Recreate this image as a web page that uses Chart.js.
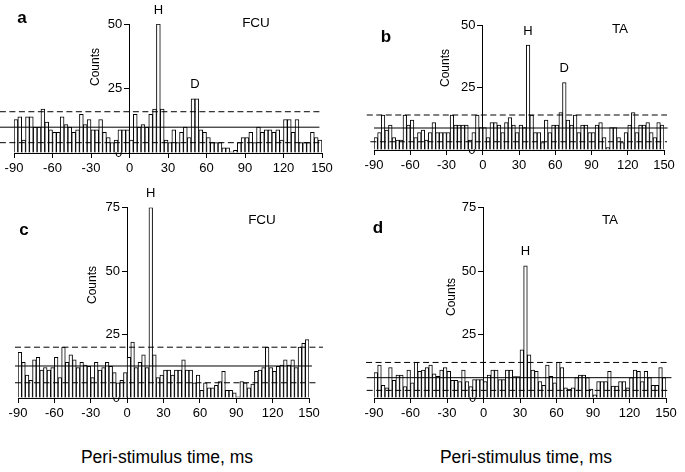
<!DOCTYPE html>
<html>
<head>
<meta charset="utf-8">
<script src="https://cdn.jsdelivr.net/npm/chart.js@4.4.0/dist/chart.umd.min.js"></script>
<style>
  html, body { margin: 0; padding: 0; background: #fff; }
  body { width: 685px; height: 472px; position: relative; overflow: hidden;
         font-family: "Liberation Sans", Arial, sans-serif; color: #000; }
  canvas { position: absolute; }
  .txt { position: absolute; transform: translate(-50%, -50%); white-space: nowrap; }
  .letter { font-weight: bold; font-size: 17px; }
  .muscle { font-size: 13.5px; }
  .counts { font-size: 12px; transform: translate(-50%, -50%) rotate(-90deg); }
  .xtitle { font-size: 17.5px; }
</style>
</head>
<body>
<canvas id="chartA"></canvas>
<canvas id="chartB"></canvas>
<canvas id="chartC"></canvas>
<canvas id="chartD"></canvas>

<div class="txt letter" style="left:22px;top:18px">a</div>
<div class="txt letter" style="left:386px;top:37px">b</div>
<div class="txt letter" style="left:24px;top:230px">c</div>
<div class="txt letter" style="left:378px;top:228px">d</div>

<div class="txt muscle" style="left:256px;top:22px">FCU</div>
<div class="txt muscle" style="left:620px;top:28px">TA</div>
<div class="txt muscle" style="left:262px;top:219px">FCU</div>
<div class="txt muscle" style="left:610px;top:219px">TA</div>

<div class="txt counts" style="left:95px;top:67px">Counts</div>
<div class="txt counts" style="left:445px;top:68px">Counts</div>
<div class="txt counts" style="left:92px;top:285px">Counts</div>
<div class="txt counts" style="left:451px;top:297px">Counts</div>

<div class="txt xtitle" style="left:167px;top:457px">Peri-stimulus time, ms</div>
<div class="txt xtitle" style="left:526px;top:457px">Peri-stimulus time, ms</div>

<script>
// bins: 3 ms wide, first one starts at -90 ms
const BIN_START = -90;
const BIN_WIDTH = 3;

// counts per bin
const countsA = [13,14,5,14,14,10,10,17,12,9, 8,8,14,11,10,8,9,15,11,13,
                 9,9,13,8,6,4,5,9,9,9, 5,15,10,11,10,15,17,50,17,5,
                 4,9,4,8,10,6,21,21,9,8, 6,4,4,4,2,2,0.5,1,4,6,
                 6,8,4,10,8,9,9,8,9,5, 13,13,8,13,4,4,4,8,6,5];
const countsB = [5,7,14,8,10,5,4,4,14,10, 12,5,7,8,4,7,11,7,7,7,
                 7,14,10,10,10,10,4,7,14,9, 9,5,11,11,10,7,11,13,10,7,
                 10,9,42,14,7,7,3,12,7,10, 10,15,27,12,10,14,7,10,10,7,
                 7,10,11,5,1,9,9,5,3,7, 10,15,7,10,10,11,7,5,11,10];
const countsC = [18,14,9,7,15,16,11,12,11,12, 16,8,20,14,17,15,12,14,13,12.5,
                 8,14,11,12,14,12.5,10,6,7,10, 16,22,12,14,17,12,75,17,8,9,
                 11,11,9,11,11,15,11,11,6,9, 3,6,4,4,5,6.5,10.5,3,3,2,
                 0.5,6.5,6,4,5.5,10.5,11,12,20,12, 10.5,12.5,13,15,13,15,12,20,21.5,23];
const countsD = [10,13,5,4,12,7,9,9,4.5,11, 6,14,10.5,11,12,13,9.5,8.5,11,12,
                 10.5,7,7,6.5,11,6.5,4.5,7.3,7.3,7.3, 6.5,9,11,11,7.3,7.3,11,11,8.4,8.4,
                 19,52,17,11,10.5,6.5,5,13,8.5,6, 14,12,4,3.5,4,8,9,9,8,3.5,
                 1.2,6.5,6.5,6.5,10.5,4.7,4.7,6.5,6.5,4,8,11,10.5,6.5,10.5,8,5,5,12,8];

// upper limit (dashed), mean (solid), lower limit (dashed)
const limitsA = [16, 10, 4];
const limitsB = [14, 8.8, 3.3];
const limitsC = [20, 12.6, 6];
const limitsD = [14, 8, 3];

// labelled peaks (bin indices)
const peaksA = [{ text: 'H', bins: [37] }, { text: 'D', bins: [46, 47] }];
const peaksB = [{ text: 'H', bins: [42] }, { text: 'D', bins: [52] }];
const peaksC = [{ text: 'H', bins: [36] }];
const peaksD = [{ text: 'H', bins: [41] }];

const X_MIN = -90, X_MAX = 150, X_STEP = 30;
const Y_STEP = 25;

Chart.defaults.font.family = '"Liberation Sans", Arial, sans-serif';
Chart.defaults.font.size = 13;
Chart.defaults.color = '#000';

const panels = [
  { id: 'chartA', counts: countsA, limits: limitsA, peaks: peaksA, yMax: 50,
    left: 0, top: 0, width: 337, height: 183, pad: { left: 14, right: 15, top: 24 },
    from: [-101, -101, -101], to: [148, 148, 148] },
  { id: 'chartB', counts: countsB, limits: limitsB, peaks: peaksB, yMax: 50,
    left: 350, top: 0, width: 330, height: 180, pad: { left: 24, right: 16, top: 25 },
    from: [-96, -90, -93], to: [152.5, 153, 152.5] },
  { id: 'chartC', counts: countsC, limits: limitsC, peaks: peaksC, yMax: 75,
    left: 0, top: 185, width: 340, height: 243, pad: { left: 18, right: 31, top: 22.5 },
    from: [-92.5, -92.5, -92.5], to: [161.5, 152.5, 156.5] },
  { id: 'chartD', counts: countsD, limits: limitsD, peaks: peaksD, yMax: 75,
    left: 350, top: 185, width: 335, height: 243, pad: { left: 24, right: 19, top: 22.5 },
    from: [-96.5, -96, -96], to: [153, 154.5, 153] }
];

function makePanel(p) {
  const canvas = document.getElementById(p.id);
  canvas.width = p.width;
  canvas.height = p.height;
  canvas.style.left = p.left + 'px';
  canvas.style.top = p.top + 'px';

  const bars = p.counts.map((c, i) => ({ x: BIN_START + BIN_WIDTH * (i + 0.5), y: c }));

  const lineSet = (k, dash) => ({
    type: 'line',
    data: [{ x: p.from[k], y: p.limits[k] }, { x: p.to[k], y: p.limits[k] }],
    borderColor: '#000',
    borderWidth: 1,
    borderDash: dash,
    pointRadius: 0,
    fill: false,
    clip: false,
    order: 1
  });

  const peakLabels = {
    id: 'peakLabels',
    afterDatasetsDraw(chart) {
      const { ctx, scales: { x, y } } = chart;
      ctx.save();
      ctx.font = '13px "Liberation Sans", Arial, sans-serif';
      ctx.fillStyle = '#000';
      ctx.textAlign = 'center';
      ctx.textBaseline = 'middle';
      p.peaks.forEach(pk => {
        const xs = pk.bins.map(b => bars[b].x);
        const top = Math.max(...pk.bins.map(b => bars[b].y));
        const px = x.getPixelForValue(xs.reduce((s, v) => s + v, 0) / xs.length);
        ctx.fillText(pk.text, px, y.getPixelForValue(top) - 14);
      });
      ctx.restore();
    }
  };

  new Chart(canvas, {
    type: 'bar',
    data: {
      datasets: [
        {
          data: bars,
          backgroundColor: '#fff',
          borderColor: '#000',
          borderWidth: 1,
          barPercentage: 1,
          categoryPercentage: 1,
          order: 2
        },
        lineSet(0, [6, 3.5]),
        lineSet(1, []),
        lineSet(2, [6, 3.5])
      ]
    },
    options: {
      responsive: false,
      devicePixelRatio: 1,
      animation: false,
      events: [],
      layout: { padding: { left: p.pad.left, right: p.pad.right, top: p.pad.top, bottom: 0 } },
      plugins: { legend: { display: false }, tooltip: { enabled: false } },
      scales: {
        x: {
          type: 'linear',
          min: X_MIN,
          max: X_MAX,
          offset: false,
          ticks: { stepSize: X_STEP, padding: 3, maxRotation: 0 },
          grid: { offset: false, drawOnChartArea: false, drawTicks: true, tickLength: 5, color: '#000' },
          border: { display: true, color: '#000', width: 1 },
          afterFit(scale) { scale.height = 30; }
        },
        y: {
          position: { x: 0 },
          min: 0,
          max: p.yMax,
          // labels of an axis placed at x = 0 sit right on the line, so pad them with spaces
          ticks: { stepSize: Y_STEP, callback: v => v + '  ' },
          grid: { drawOnChartArea: false, drawTicks: true, tickLength: 5, color: '#000' },
          border: { display: true, color: '#000', width: 1 }
        }
      }
    },
    plugins: [peakLabels]
  });
}

panels.forEach(makePanel);
</script>
</body>
</html>
